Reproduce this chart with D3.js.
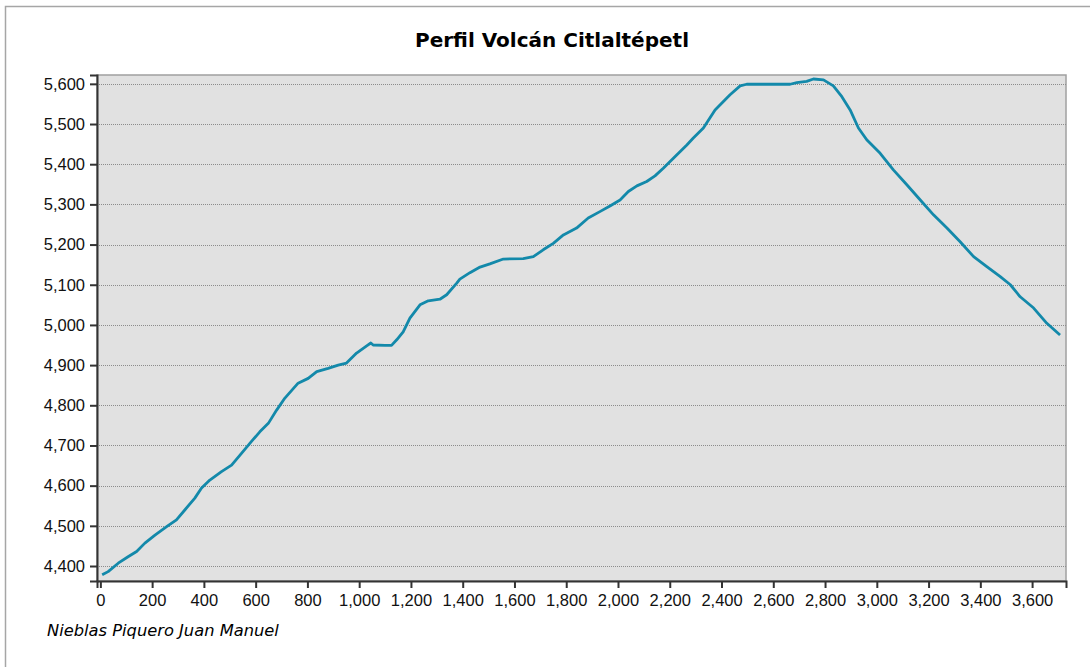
<!DOCTYPE html>
<html>
<head>
<meta charset="utf-8">
<style>
  body { margin: 0; background: white; }
  svg { display: block; }
  .tick text { font-family: "Liberation Sans", Arial, sans-serif; font-size: 16.5px; fill: #111; }
</style>
<script src="https://cdn.jsdelivr.net/npm/d3@7"></script>
</head>
<body>
<svg id="chart"></svg>
<script>
// profile: distance (m) and elevation (m)
let dist = [7, 30, 69, 107, 140, 172, 211, 256, 294, 327, 365, 391, 423, 468, 507, 546, 584, 616, 649, 681, 713,
  764, 803, 836, 880, 919, 951, 990, 1029, 1045, 1054, 1100, 1125, 1145, 1170, 1196, 1235, 1267, 1312, 1338, 1377,
  1389, 1428, 1467, 1505, 1557, 1634, 1673, 1711, 1750, 1789, 1840, 1885, 1930, 1969, 2008, 2040, 2073, 2111, 2143,
  2175, 2214, 2266, 2291, 2330, 2375, 2433, 2472, 2497, 2665, 2691, 2729, 2755, 2794, 2832, 2865, 2897, 2929, 2961,
  3013, 3064, 3116, 3168, 3219, 3271, 3322, 3374, 3425, 3477, 3516, 3554, 3606, 3657, 3708]
let elev = [4378, 4386, 4407, 4423, 4436, 4457, 4477, 4498, 4515, 4540, 4569, 4594, 4614, 4635, 4651, 4681, 4710, 4734, 4755, 4788, 4818,
  4855, 4867, 4884, 4892, 4900, 4905, 4930, 4948, 4955, 4950, 4949, 4949, 4963, 4983, 5017, 5050, 5060, 5064, 5075, 5104,
  5114, 5130, 5144, 5152, 5164, 5165, 5170, 5187, 5203, 5224, 5241, 5266, 5282, 5296, 5311, 5332, 5346, 5357, 5371,
  5390, 5415, 5448, 5465, 5490, 5535, 5573, 5595, 5599, 5599, 5603, 5606, 5612, 5610, 5595, 5568, 5535, 5490, 5461,
  5427, 5386, 5349, 5311, 5274, 5241, 5207, 5170, 5145, 5120, 5100, 5070, 5042, 5004, 4975]

let xTicks = d3.range(0, 3601, 200)
let yTicks = d3.range(4400, 5601, 100)
let title = "Perfil Volcán Citlaltépetl"
let author = "Nieblas Piquero Juan Manuel"

let width = 1090
let height = 667
let plotLeft = 97, plotTop = 75, plotRight = 1066, plotBottom = 581

let svg = d3.select("#chart").attr("width", width).attr("height", height)

// outer frame (only top and left edge are visible)
svg.append("rect")
  .attr("x", 5.5).attr("y", 6.5)
  .attr("width", 1200).attr("height", 800)
  .attr("fill", "white").attr("stroke", "#a6a6a6").attr("stroke-width", 1.5)

let x = d3.scaleLinear().domain([-13, 3731]).range([plotLeft, plotRight])
let y = d3.scaleLinear().domain([4362.7, 5622]).range([plotBottom, plotTop])

svg.append("rect")
  .attr("x", plotLeft).attr("y", plotTop)
  .attr("width", plotRight - plotLeft).attr("height", plotBottom - plotTop)
  .attr("fill", "#e1e1e1").attr("stroke", "#a0a0a0").attr("stroke-width", 1.5)

// grid
svg.append("g").selectAll("line").data(yTicks)
  .enter().append("line")
  .attr("x1", plotLeft).attr("x2", plotRight)
  .attr("y1", d => Math.round(y(d)) + 0.5).attr("y2", d => Math.round(y(d)) + 0.5)
  .attr("stroke", "#8c8c8c").attr("stroke-dasharray", "1,1")

let line = d3.line().x((d, i) => x(dist[i])).y(d => y(d))
svg.append("path").datum(elev)
  .attr("d", line)
  .attr("fill", "none")
  .attr("stroke", "#1389aa")
  .attr("stroke-width", 2.8)
  .attr("stroke-linejoin", "round")

let yAxis = d3.axisLeft(y).tickValues(yTicks).tickFormat(d3.format(",")).tickSize(7).tickPadding(5)
let gy = svg.append("g").attr("transform", `translate(${plotLeft},0)`).call(yAxis)
gy.select(".domain").attr("stroke", "#333").attr("stroke-width", 2)
gy.selectAll(".tick line").attr("stroke", "#333").attr("stroke-width", 2)

let xAxis = d3.axisBottom(x).tickValues(xTicks).tickFormat(d3.format(",")).tickSize(7).tickPadding(6)
let gx = svg.append("g").attr("transform", `translate(0,${plotBottom})`).call(xAxis)
gx.select(".domain").attr("stroke", "#333").attr("stroke-width", 2)
gx.selectAll(".tick line").attr("stroke", "#333").attr("stroke-width", 2)

svg.append("text")
  .attr("x", 552).attr("y", 47)
  .attr("text-anchor", "middle")
  .style("font-family", "'DejaVu Sans', sans-serif")
  .style("font-weight", "bold").style("font-size", "20px")
  .text(title)

svg.append("text")
  .attr("x", 47).attr("y", 636)
  .style("font-family", "'DejaVu Sans', sans-serif")
  .style("font-style", "italic").style("font-size", "16.3px")
  .text(author)
</script>
</body>
</html>
